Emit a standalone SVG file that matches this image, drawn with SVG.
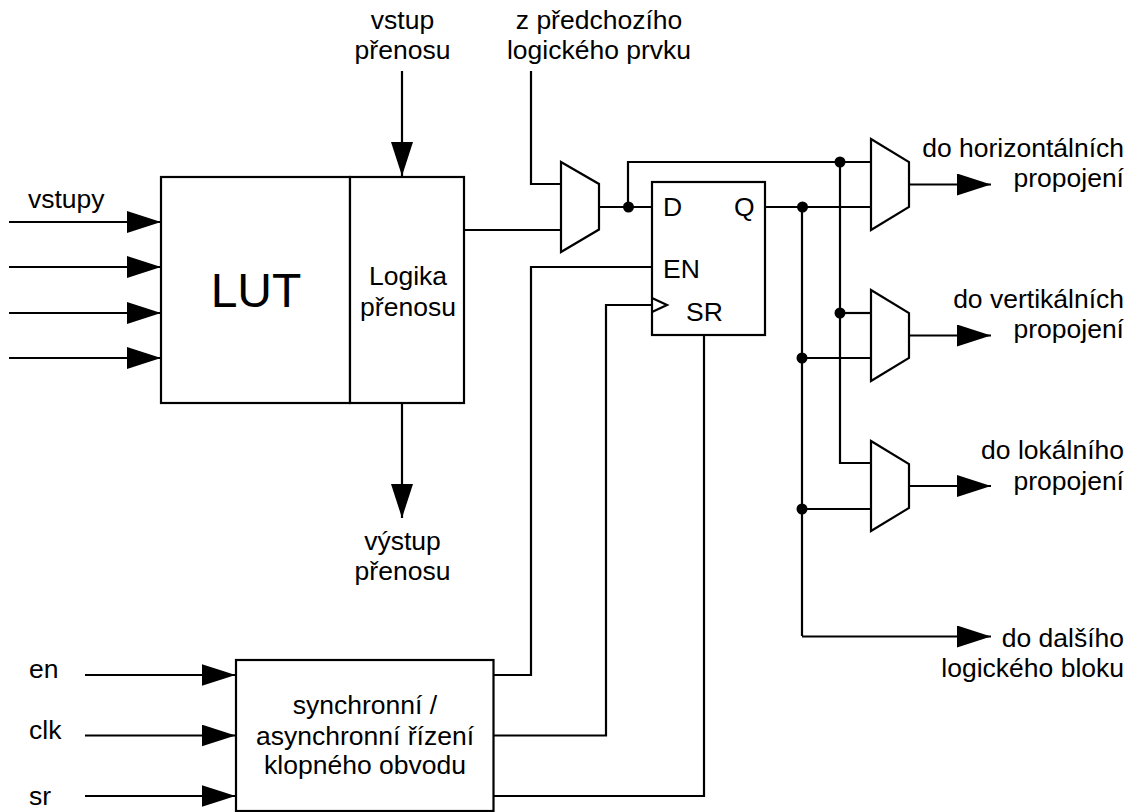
<svg xmlns="http://www.w3.org/2000/svg" width="1131" height="812" viewBox="0 0 1131 812">
<style>
text{font-family:"Liberation Sans",Arial,sans-serif;font-size:26.5px;fill:#000}
.s{fill:#fff;stroke:#000;stroke-width:2.2}
.c{fill:none;stroke:#000;stroke-width:2.2}
.m{text-anchor:middle}
.e{text-anchor:end}
</style>
<defs>
<marker id="a" markerUnits="userSpaceOnUse" markerWidth="34" markerHeight="22" refX="34" refY="11" orient="auto"><path d="M0 0L34 11L0 22Z" fill="#000"/></marker>
<marker id="b" markerUnits="userSpaceOnUse" markerWidth="22" markerHeight="34" refX="11" refY="34" orient="0"><path d="M0 0L22 0L11 34Z" fill="#000"/></marker>
</defs>
<g id="connectors">
<path class="c" marker-end="url(#a)" d="M9 222H161"/>
<path class="c" marker-end="url(#a)" d="M9 267H161"/>
<path class="c" marker-end="url(#a)" d="M9 313H161"/>
<path class="c" marker-end="url(#a)" d="M9 358H161"/>
<path class="c" marker-end="url(#b)" d="M402 71V176"/>
<path class="c" marker-end="url(#b)" d="M402 403V518"/>
<path class="c" d="M464 230H561"/>
<path class="c" d="M531 71V184H561"/>
<path class="c" d="M599 207H652"/>
<path class="c" d="M628 207V162H871"/>
<path class="c" d="M840 162V463H871"/>
<path class="c" d="M840 313H871"/>
<path class="c" d="M765 207H871"/>
<path class="c" d="M802 207V636"/>
<path class="c" d="M802 358H871"/>
<path class="c" d="M802 509H871"/>
<path class="c" marker-end="url(#a)" d="M909 184.500H991"/>
<path class="c" marker-end="url(#a)" d="M909 335.500H991"/>
<path class="c" marker-end="url(#a)" d="M909 486H991"/>
<path class="c" marker-end="url(#a)" d="M802 636.500H991"/>
<path class="c" d="M652 267H531V675H494"/>
<path class="c" d="M652 305H606V735.500H494"/>
<path class="c" d="M704 335V796H494"/>
<path class="c" marker-end="url(#a)" d="M85 675H235.500"/>
<path class="c" marker-end="url(#a)" d="M85 735.500H235.500"/>
<path class="c" marker-end="url(#a)" d="M85 796H235.500"/>
<g fill="#000"><circle cx="628.500" cy="207" r="5.500"/><circle cx="840" cy="162" r="5.500"/><circle cx="802.500" cy="207" r="5.500"/><circle cx="840" cy="313" r="5.500"/><circle cx="802" cy="358" r="5.500"/><circle cx="802" cy="509" r="5.500"/></g>
</g>
<g id="lut"><rect class="s" x="161" y="177" width="189" height="226"/><text class="m" x="256" y="307" style="font-size:48px">LUT</text></g>
<g id="carry"><rect class="s" x="350" y="177" width="114" height="226"/><text class="m" x="408" y="285">Logika</text><text class="m" x="408" y="316">přenosu</text></g>
<g id="mux0"><path class="s" d="M561 162L599 184V229.500L561 252Z"/></g>
<g id="ff"><rect class="s" x="652" y="182" width="113" height="153"/><path class="c" d="M652 298L667 305L652 312"/><text x="663" y="216">D</text><text x="734" y="216">Q</text><text x="663" y="278">EN</text><text x="686" y="321">SR</text></g>
<g id="mux1"><path class="s" d="M871 139L909 162V207L871 230Z"/></g>
<g id="mux2"><path class="s" d="M871 290L909 313V358L871 381Z"/></g>
<g id="mux3"><path class="s" d="M871 441L909 464V508L871 531Z"/></g>
<g id="ctrl"><rect class="s" x="236" y="660" width="257.500" height="151"/><text class="m" x="365" y="714">synchronní /</text><text class="m" x="365" y="745">asynchronní řízení</text><text class="m" x="365" y="774">klopného obvodu</text></g>
<g id="labels">
<text x="28" y="208">vstupy</text>
<text class="m" x="402.500" y="29">vstup</text><text class="m" x="402.500" y="59">přenosu</text>
<text class="m" x="599" y="29">z předchozího</text><text class="m" x="599" y="59">logického prvku</text>
<text class="m" x="402.500" y="550">výstup</text><text class="m" x="402.500" y="580">přenosu</text>
<text class="e" x="1124" y="157">do horizontálních</text><text class="e" x="1124" y="187">propojení</text>
<text class="e" x="1124" y="308">do vertikálních</text><text class="e" x="1124" y="338">propojení</text>
<text class="e" x="1124" y="459">do lokálního</text><text class="e" x="1124" y="490">propojení</text>
<text class="e" x="1124" y="647">do dalšího</text><text class="e" x="1124" y="677">logického bloku</text>
<text x="29" y="678">en</text><text x="29" y="739">clk</text><text x="29" y="805">sr</text>
</g>
</svg>
